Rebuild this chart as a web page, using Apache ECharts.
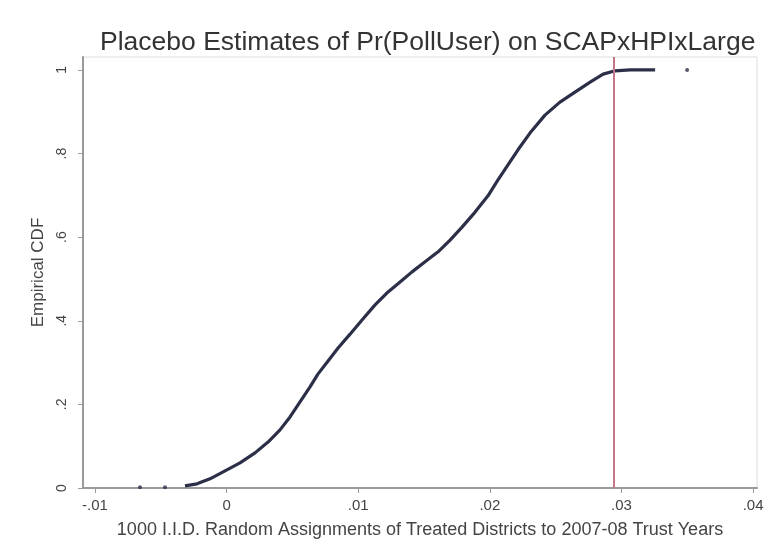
<!DOCTYPE html>
<html>
<head>
<meta charset="utf-8">
<script src="https://cdn.jsdelivr.net/npm/echarts@6/dist/echarts.min.js"></script>
<style>
  html, body { margin: 0; padding: 0; background: #ffffff; }
  #chart { width: 769px; height: 560px; }
</style>
</head>
<body>
<div id="chart"></div>
<script>
// Placebo estimates (sorted) and their empirical CDF
const estimates = [-0.00316, -0.00225, -0.00126, -0.00012, 0.00102, 0.00216, 0.00315, 0.00406,
  0.00482, 0.00558, 0.00634, 0.00695, 0.00771, 0.00847, 0.00938, 0.01029, 0.01128, 0.01227,
  0.01318, 0.01409, 0.01508, 0.01607, 0.01698, 0.01789, 0.01888, 0.01986, 0.02062, 0.02138,
  0.02214, 0.02305, 0.02419, 0.02533, 0.02647, 0.02762, 0.02861, 0.02952, 0.03066, 0.03256];
const cdf = [0.005, 0.010, 0.022, 0.041, 0.060, 0.084, 0.110, 0.139,
  0.170, 0.206, 0.242, 0.273, 0.304, 0.335, 0.368, 0.402, 0.438, 0.469,
  0.493, 0.517, 0.541, 0.565, 0.593, 0.624, 0.660, 0.699, 0.737, 0.773,
  0.809, 0.849, 0.892, 0.923, 0.947, 0.971, 0.990, 0.998, 1.0, 1.0];
// Isolated extreme draws in the tails
const tailEstimates = [-0.00658, -0.00468, 0.03499];
const tailCdf = [0.002, 0.002, 1.0];

// Actual estimate
const actualEstimate = 0.0294;

// Axis ticks
const xTicks = [-0.01, 0, 0.01, 0.02, 0.03, 0.04];
const yTicks = [0, 0.2, 0.4, 0.6, 0.8, 1];

const titleText = 'Placebo Estimates of Pr(PollUser) on SCAPxHPIxLarge';
const xTitle = '1000 I.I.D. Random Assignments of Treated Districts to 2007-08 Trust Years';
const yTitle = 'Empirical CDF';

// Stata-style number formatting: drop the leading zero
function stataFmt(v) {
  const r = Math.round(v * 1000) / 1000;
  if (r === 0) return '0';
  let s = String(r);
  s = s.replace(/^0\./, '.').replace(/^-0\./, '-.');
  return s;
}

const mainData = estimates.map((x, i) => [x, cdf[i]]);
const tailData = tailEstimates.map((x, i) => [x, tailCdf[i]]);

const FONT = 'Liberation Sans, Arial, sans-serif';
const curveColor = '#2b2f48';

const chart = echarts.init(document.getElementById('chart'), null, { renderer: 'canvas' });
chart.setOption({
  backgroundColor: '#ffffff',
  animation: false,
  title: {
    text: titleText,
    left: 95,
    top: 24,
    textStyle: { fontFamily: FONT, fontSize: 26.5, fontWeight: 'normal', color: '#333333' }
  },
  grid: {
    left: 83, right: 12, top: 57, bottom: 72,
    show: true, borderColor: '#dddddd', borderWidth: 1, backgroundColor: '#ffffff'
  },
  xAxis: {
    type: 'value',
    min: -0.01091,
    max: 0.0403,
    name: xTitle,
    nameLocation: 'middle',
    nameGap: 33,
    nameTextStyle: { fontFamily: FONT, fontSize: 18, color: '#444444' },
    axisLine: { show: true, onZero: false, lineStyle: { color: '#9a9a9a', width: 2 } },
    axisTick: { show: true, length: 5, lineStyle: { color: '#9a9a9a' }, customValues: xTicks },
    axisLabel: {
      fontFamily: FONT, fontSize: 15, color: '#444444', margin: 10,
      customValues: xTicks, formatter: stataFmt
    },
    splitLine: { show: false }
  },
  yAxis: {
    type: 'value',
    min: 0,
    max: 1.031,
    name: yTitle,
    nameLocation: 'middle',
    nameGap: 36,
    nameRotate: 90,
    nameTextStyle: { fontFamily: FONT, fontSize: 17, color: '#444444' },
    axisLine: { show: true, onZero: false, lineStyle: { color: '#9a9a9a', width: 2 } },
    axisTick: { show: true, length: 5, lineStyle: { color: '#9a9a9a' }, customValues: yTicks },
    axisLabel: {
      fontFamily: FONT, fontSize: 14, color: '#444444', margin: 14, rotate: 90,
      customValues: yTicks, formatter: stataFmt
    },
    splitLine: { show: false }
  },
  series: [
    {
      type: 'line',
      data: mainData,
      showSymbol: false,
      smooth: false,
      lineStyle: { color: curveColor, width: 3.2 },
      z: 3,
      markLine: {
        silent: true,
        precision: 5,
        symbol: ['none', 'none'],
        label: { show: false },
        lineStyle: { color: '#c8758a', width: 2, type: 'solid' },
        data: [{ xAxis: actualEstimate }]
      }
    },
    {
      type: 'scatter',
      data: tailData,
      symbol: 'circle',
      symbolSize: 4,
      itemStyle: { color: curveColor },
      z: 3
    }
  ]
});
</script>
</body>
</html>
